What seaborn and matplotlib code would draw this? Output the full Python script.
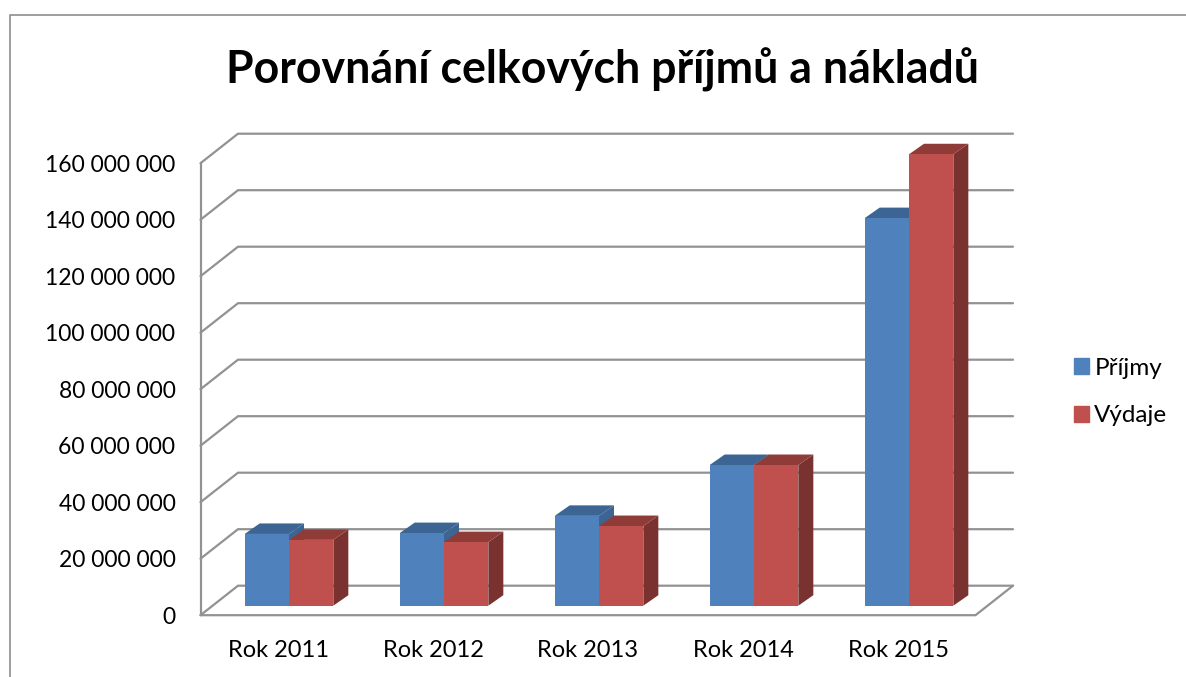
import pandas as pd
import matplotlib
matplotlib.use("Agg")
import matplotlib.pyplot as plt
from matplotlib.lines import Line2D
from matplotlib.patches import Polygon, Patch
import seaborn as sns

roky = ["Rok 2011", "Rok 2012", "Rok 2013", "Rok 2014", "Rok 2015"]
prijmy = [25400000, 25700000, 31800000, 49800000, 137200000]
vydaje = [23300000, 22500000, 28200000, 49800000, 159800000]
osa_y = [0, 20000000, 40000000, 60000000, 80000000, 100000000, 120000000, 140000000, 160000000]

W, H = 1186, 677
modra, cervena = "#4F81BD", "#C0504D"
modra_tmava, cervena_tmava = "#3C6594", "#8F3B38"
cervena_bok = "#7A3230"
seda = "#929292"

sns.set_theme(style="white")
plt.rcParams["font.family"] = ["Lato", "DejaVu Sans"]

df = pd.DataFrame({
    "rok": roky * 2,
    "castka": prijmy + vydaje,
    "typ": ["Příjmy"] * 5 + ["Výdaje"] * 5,
})

fig = plt.figure(figsize=(W / 100, H / 100), dpi=100)
# axes = rovina sloupcu (o 10 px nize kvuli popisku 0), mrizka je posunuta dopredu/dozadu
ax = fig.add_axes([211.5 / W, 1 - 615.7 / H, 775 / W, 462 / H])
sns.barplot(data=df, x="rok", y="castka", hue="typ", palette=[modra, cervena],
            width=0.572, saturation=1, legend=False, ax=ax)
sns.despine(ax=ax, left=True, bottom=True)
ax.patch.set_alpha(0)
ax.set_xlabel("")
ax.set_ylabel("")

px_x = 1 / 155
px_y = 160000000 / 452
pred_x, pred_y = -11 * px_x, -9.5 * px_y
zad_x, zad_y = 26.5 * px_x, 20 * px_y
hl_x, hl_y = 15 * px_x, 10.5 * px_y

# steny a mrizka
for v in osa_y:
    y0 = v + pred_y
    y1 = v + zad_y
    ax.plot([-0.5 + pred_x, -0.5 + zad_x, 4.5 + zad_x], [y0, y1, y1],
            color=seda, lw=1.6, clip_on=False, zorder=1, solid_joinstyle="miter")
ax.plot([-0.5 + pred_x, -0.5 + pred_x], [pred_y, 160000000 + pred_y],
        color=seda, lw=1.6, clip_on=False, zorder=1)
ax.plot([-0.5 + pred_x, 4.5 + pred_x, 4.5 + zad_x], [pred_y, pred_y, zad_y],
        color=seda, lw=1.6, clip_on=False, zorder=1, solid_joinstyle="miter")

# 3D bok a vrsek kazdeho sloupce
barvy = [(modra_tmava, modra_tmava), (cervena_tmava, cervena_bok)]
for i, cont in enumerate(ax.containers):
    z = 3 + i * 3
    for bar in cont:
        x0, x1 = bar.get_x(), bar.get_x() + bar.get_width()
        h = bar.get_height()
        bar.set_zorder(z + 2)
        bar.set_edgecolor("none")
        bar.set_clip_on(False)
        ax.add_patch(Polygon([(x0, h), (x1, h), (x1 + hl_x, h + hl_y), (x0 + hl_x, h + hl_y)],
                             facecolor=barvy[i][0], edgecolor="none", clip_on=False, zorder=z + 1))
        ax.add_patch(Polygon([(x1, 0), (x1 + hl_x, hl_y), (x1 + hl_x, h + hl_y), (x1, h)],
                             facecolor=barvy[i][1], edgecolor="none", clip_on=False, zorder=z))

ax.set_xticks([i + pred_x for i in range(5)], roky)
ax.set_yticks([v + pred_y for v in osa_y], [f"{v:,}".replace(",", " ") for v in osa_y])
ax.tick_params(axis="x", length=0, pad=17.5, labelsize=17, labelcolor="black")
ax.tick_params(axis="y", length=0, pad=26, labelsize=16.5, labelcolor="black")
# set_xticks/set_yticks rozsiri limity, takze az tady
ax.set_xlim(-0.5, 4.5)
ax.set_ylim(-10 * px_y, 160000000)

fig.suptitle("Porovnání celkových příjmů a nákladů", x=602 / W, y=1 - 70 / H,
             va="center", ha="center", fontsize=32.1, fontweight="bold", color="black")

fig.legend(handles=[Patch(color=modra, label="Příjmy"), Patch(color=cervena, label="Výdaje")],
           loc="center left", bbox_to_anchor=(1074 / W, 1 - 392 / H), frameon=False,
           fontsize=17.5, handlelength=0.62, handleheight=0.62, handletextpad=0.22,
           labelspacing=1.1, labelcolor="black", borderaxespad=0, borderpad=0)

# ramecek grafu
fig.add_artist(Line2D([10 / W, 10 / W, 1], [0, 1 - 14.5 / H, 1 - 14.5 / H], color="#8E8E8E", lw=1.2))

fig.savefig("out.png", dpi=100)
